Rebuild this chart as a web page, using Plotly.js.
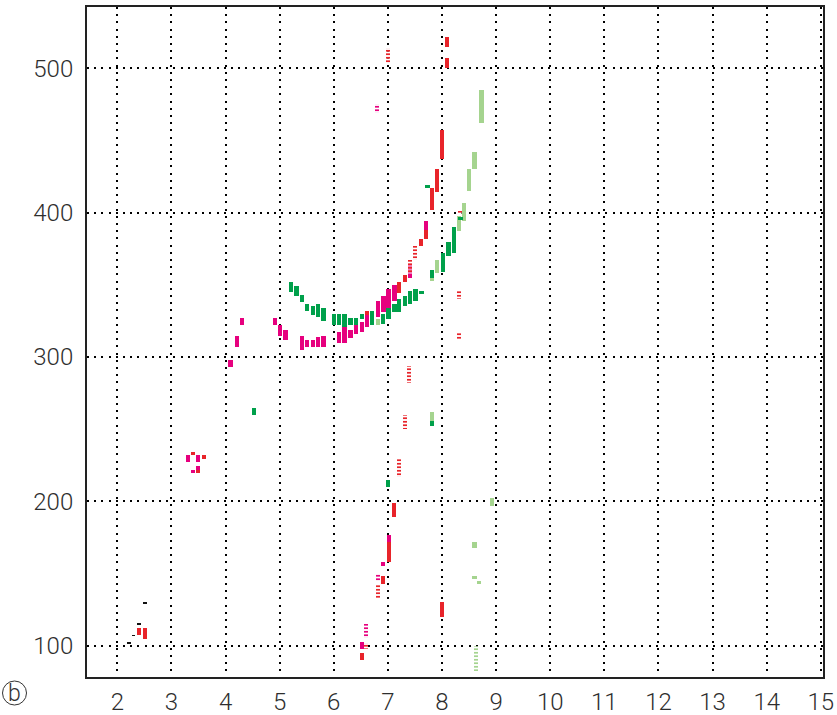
<!DOCTYPE html>
<html>
<head>
<meta charset="utf-8">
<script src="https://cdn.plot.ly/plotly-3.0.1.min.js"></script>
<style>html,body{margin:0;padding:0;background:#fff;}#chart{width:837px;height:715px;}</style>
</head>
<body>
<div id="chart"></div>
<script>
// ---- data: each mark is a short vertical bar from low to high at x ----
const magentaX    = [3.31, 3.49, 3.40, 3.49, 4.09, 4.21, 4.30, 4.91, 5.01, 5.11, 5.41, 5.51, 5.61, 5.71, 5.81, 6.10, 6.20, 6.31, 6.41, 6.52, 6.62, 6.82, 6.92, 7.01, 7.12, 7.41, 7.71, 7.02, 6.91, 6.52];
const magentaLow  = [227.5, 227, 219.6, 219.6, 293, 307, 322, 322, 314.6, 312, 305, 307, 307, 307, 307, 310, 310, 313, 316, 317, 321, 328, 331, 334, 339, 355, 388, 166, 155, 97.5];
const magentaHigh = [232, 232, 221.5, 224.5, 298, 314.6, 327, 327, 322, 319, 314.6, 312, 312, 314, 314.6, 317, 321, 319, 322, 324, 330, 339, 342, 347, 350, 364, 394, 177, 158, 102.5];
const magentaHatchX    = [6.80, 6.81, 6.60];
const magentaHatchLow  = [469, 145, 105.5];
const magentaHatchHigh = [475, 150, 115];

const greenX    = [4.53, 5.21, 5.31, 5.41, 5.51, 5.61, 5.71, 5.81, 6.00, 6.10, 6.20, 6.31, 6.41, 6.52, 6.71, 6.91, 7.01, 7.12, 7.21, 7.31, 7.41, 7.51, 7.62, 7.82, 8.02, 8.12, 8.22, 8.34, 7.73, 7.82, 7.00];
const greenLow  = [259.7, 345, 342, 338, 332, 329, 328, 325, 322, 322, 318, 322, 322, 326, 322, 323, 326, 331, 331, 335, 337, 339, 344, 355, 359, 370, 372, 395, 417, 252, 210];
const greenHigh = [264.5, 352, 349, 343, 337, 335, 337, 334, 330, 330, 330, 327, 327, 330, 332, 330, 335, 337, 340, 342, 346, 347, 346, 360, 372, 380, 390, 397, 419, 256, 215];

const lightGreenX    = [8.73, 8.60, 8.50, 8.40, 8.31, 7.91, 7.81, 6.81, 7.82, 8.93, 8.60, 8.60, 8.69];
const lightGreenLow  = [462, 430, 415, 394, 387, 358, 353, 322, 256, 197, 168, 146, 143];
const lightGreenHigh = [485, 442, 430, 407, 398, 367, 357, 326, 262, 202, 172, 148, 145];
const lightGreenHatchX    = [8.62];
const lightGreenHatchLow  = [82.5];
const lightGreenHatchHigh = [100];

const redX    = [2.40, 2.51, 3.40, 3.60, 3.49, 6.52, 6.91, 7.02, 7.11, 8.00, 8.09, 8.09, 6.62, 7.21, 7.31, 7.61, 7.71, 7.82, 7.91, 8.00];
const redLow  = [107.5, 104.5, 232, 229.5, 219.6, 90, 143, 158, 189, 120, 515, 500, 329, 344.5, 352, 377, 382, 402, 414, 437];
const redHigh = [112, 112, 234, 232, 222, 95, 148, 172, 199, 130, 522, 507, 332, 352, 357, 382, 388, 417, 430, 457];
const redHatchX    = [6.60, 6.82, 7.20, 7.31, 7.39, 8.31, 8.31, 7.00, 7.41, 7.50, 8.33];
const redHatchLow  = [98, 132, 217, 250, 282, 340, 312, 504, 357.5, 367, 399];
const redHatchHigh = [102, 142, 230, 260, 294, 346, 317, 514, 367, 377, 401];

const blackX    = [2.22, 2.30, 2.40, 2.51];
const blackLow  = [101.5, 106.5, 114.5, 129];
const blackHigh = [102.7, 107.7, 115.7, 130.2];

const xTicks = [2, 3, 4, 5, 6, 7, 8, 9, 10, 11, 12, 13, 14, 15];
const yTicks = [100, 200, 300, 400, 500];

// ---- traces ----
function barTrace(xs, lows, highs, color, w, hatch) {
  const t = {
    type: 'bar', x: xs, base: lows,
    y: highs.map((h, i) => h - lows[i]),
    width: xs.map(() => w),
    marker: {color: color, line: {width: 0}},
    hoverinfo: 'skip', showlegend: false
  };
  if (hatch) {
    t.marker.pattern = {shape: '-', size: 3.5, solidity: 0.5, fgcolor: color, bgcolor: 'rgba(255,255,255,0.5)'};
  }
  return t;
}

const traces = [
  barTrace(blackX, blackLow, blackHigh, '#111111', 0.07, false),
  barTrace(lightGreenX, lightGreenLow, lightGreenHigh, '#a5d48f', 0.075, false),
  barTrace(lightGreenHatchX, lightGreenHatchLow, lightGreenHatchHigh, '#a5d48f', 0.075, true),
  barTrace(greenX, greenLow, greenHigh, '#00a04b', 0.08, false),
  barTrace(magentaX, magentaLow, magentaHigh, '#e6007e', 0.08, false),
  barTrace(magentaHatchX, magentaHatchLow, magentaHatchHigh, '#e6007e', 0.07, true),
  barTrace(redX, redLow, redHigh, '#e8242a', 0.08, false),
  barTrace(redHatchX, redHatchLow, redHatchHigh, '#e8242a', 0.07, true)
];

const tickFont = {family: 'Roboto, Liberation Sans, Arial, sans-serif', size: 24, weight: 300, color: '#2e2e2e'};
const gridDash = '2px,5.2px';

const layout = {
  width: 837, height: 715,
  margin: {l: 87, r: 14, t: 7, b: 38, pad: 0},
  paper_bgcolor: '#ffffff', plot_bgcolor: '#ffffff',
  barmode: 'overlay', bargap: 0,
  showlegend: false,
  xaxis: {
    range: [1.44, 15.04], tickvals: xTicks, ticktext: xTicks.map(String),
    showgrid: true, gridcolor: '#000000', gridwidth: 2, griddash: gridDash,
    zeroline: false, showline: true, mirror: true, linecolor: '#222222', linewidth: 2,
    ticks: '', ticklabelstandoff: 2, tickfont: tickFont, fixedrange: true
  },
  yaxis: {
    range: [78.3, 542.5], tickvals: yTicks, ticktext: yTicks.map(String),
    showgrid: true, gridcolor: '#000000', gridwidth: 2, griddash: gridDash,
    zeroline: false, showline: true, mirror: true, linecolor: '#222222', linewidth: 2,
    ticks: '', ticklabelstandoff: 7, tickfont: tickFont, fixedrange: true
  },
  shapes: [{
    type: 'circle', xref: 'paper', yref: 'paper',
    xsizemode: 'pixel', ysizemode: 'pixel',
    xanchor: -0.0985, yanchor: -0.0239,
    x0: -12, x1: 12, y0: -12, y1: 12,
    line: {color: '#333333', width: 1}
  }],
  annotations: [{
    xref: 'paper', yref: 'paper', x: -0.0985, y: -0.0239,
    text: 'b', showarrow: false, xanchor: 'center', yanchor: 'middle',
    font: {family: 'Roboto, Liberation Sans, Arial, sans-serif', size: 23, weight: 300, color: '#333333'}
  }]
};

Plotly.newPlot('chart', traces, layout, {staticPlot: true, displayModeBar: false});
</script>
</body>
</html>
